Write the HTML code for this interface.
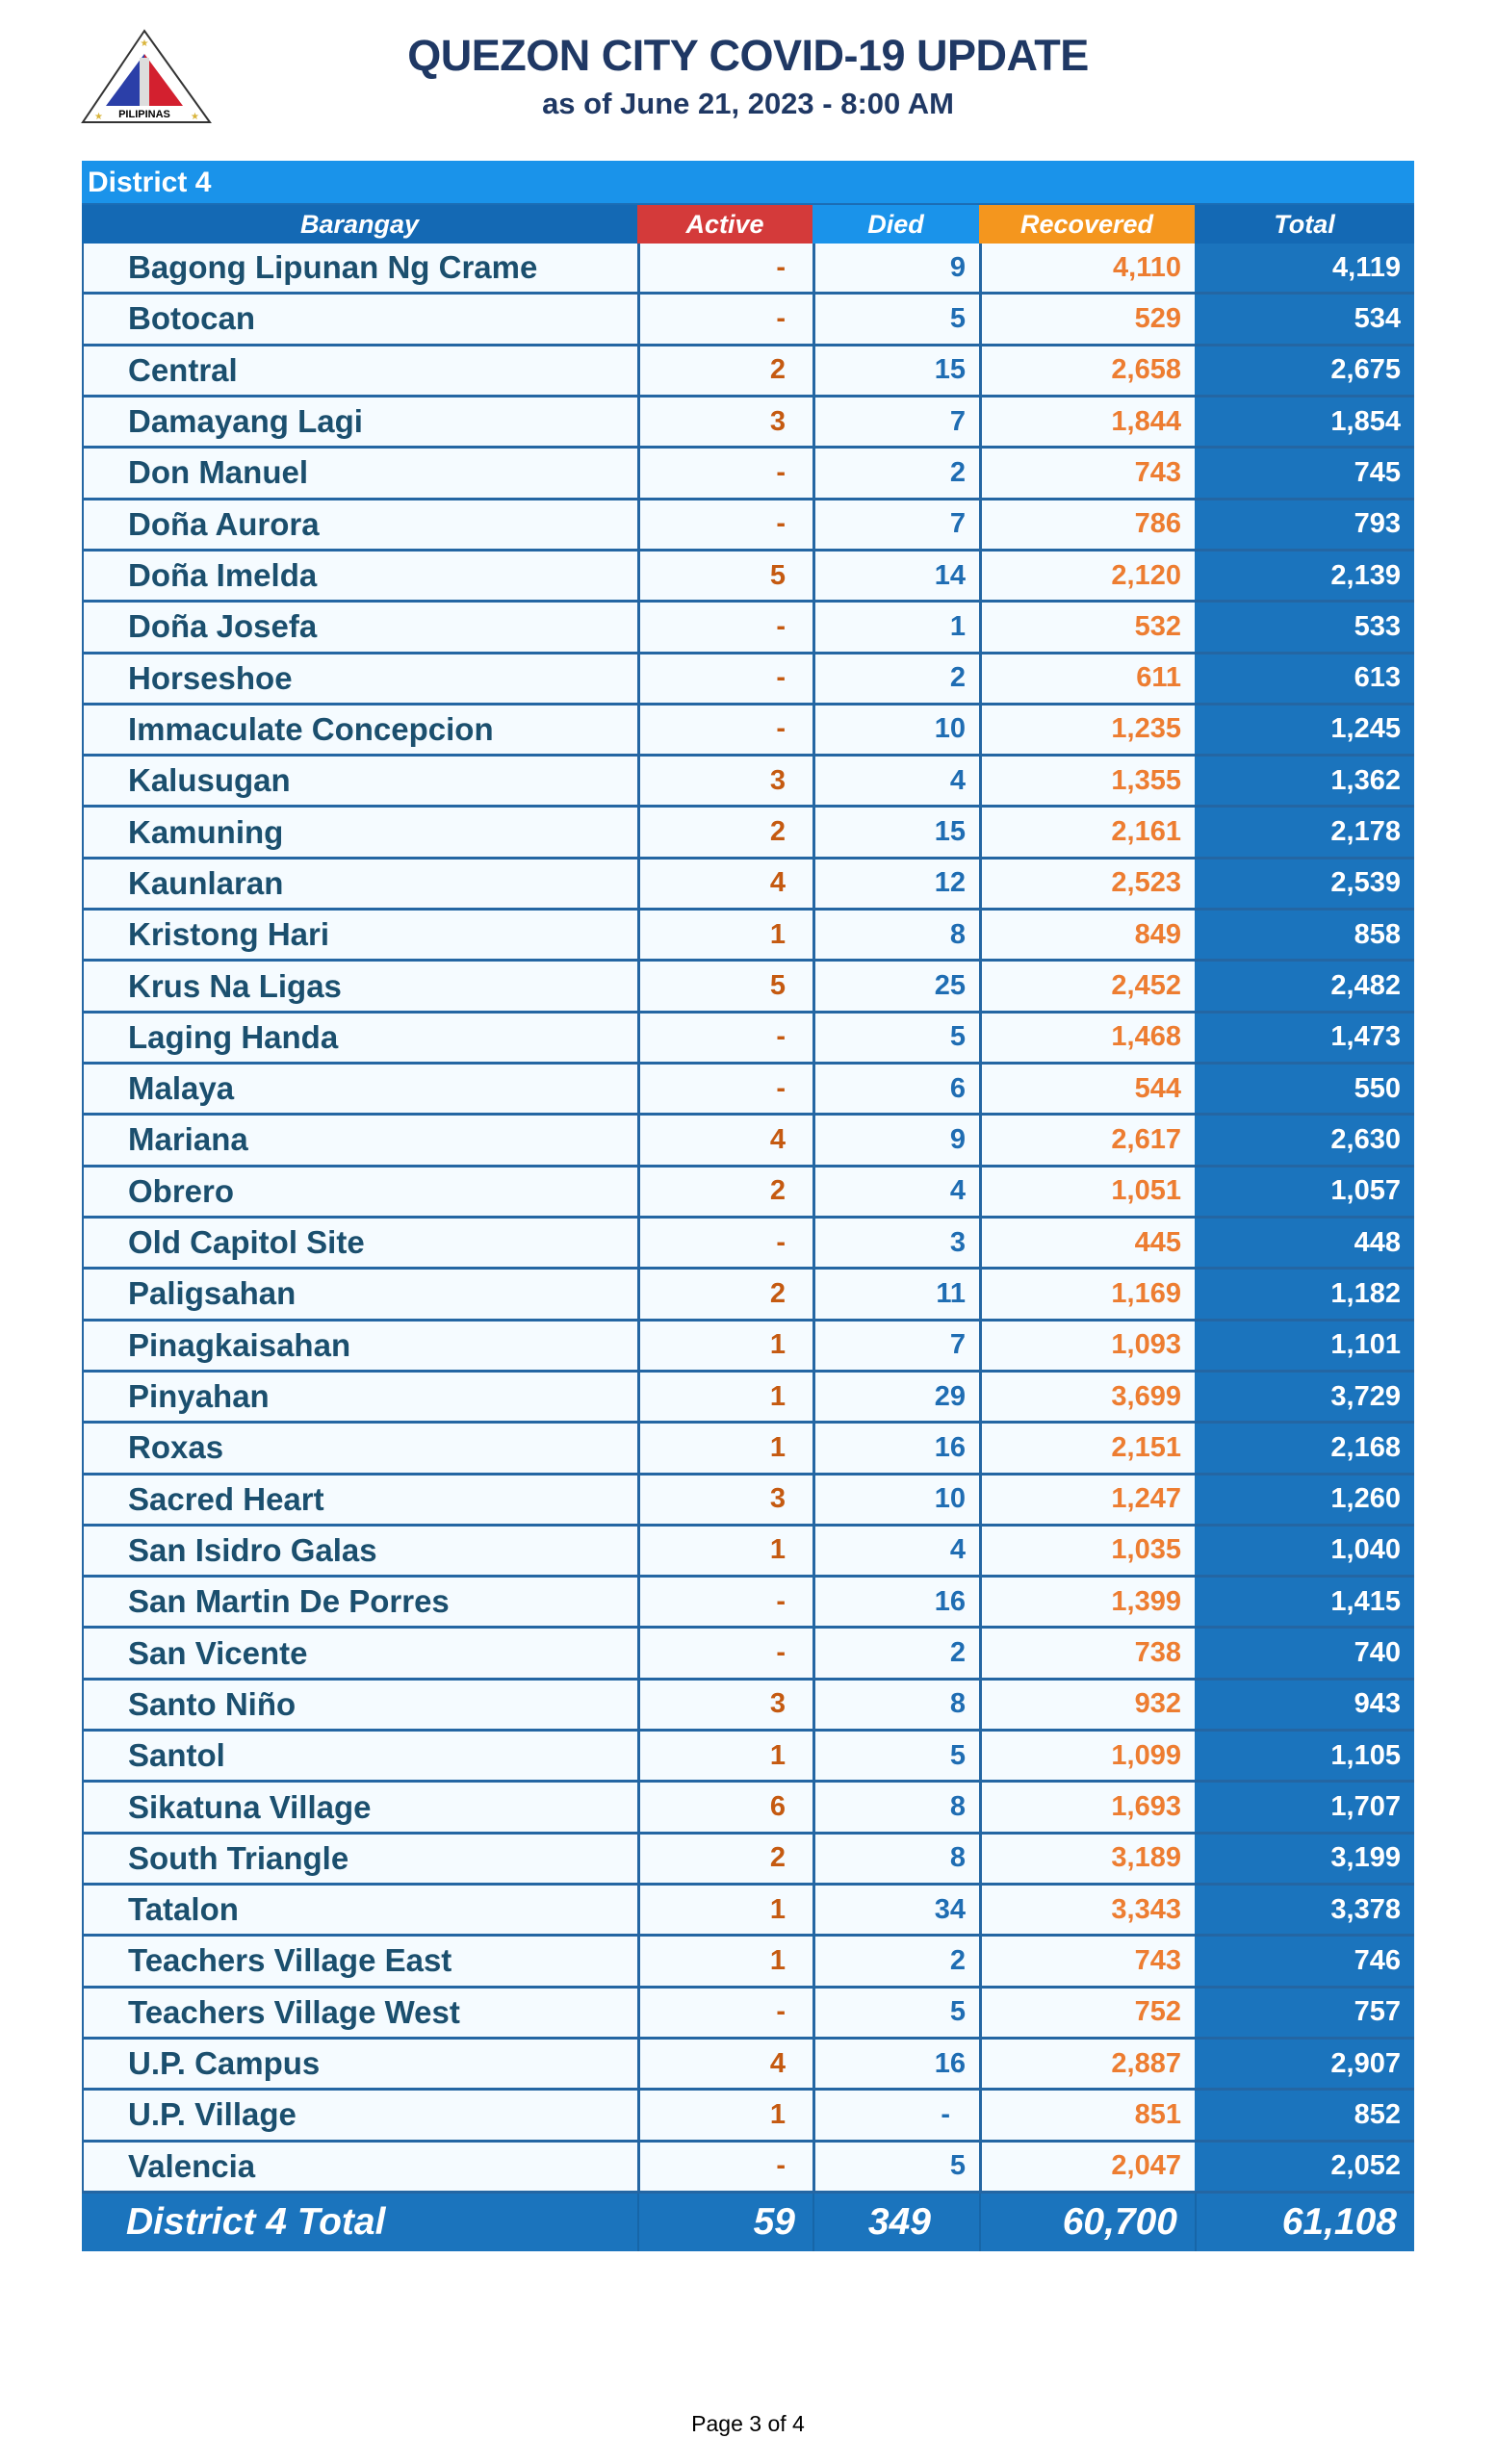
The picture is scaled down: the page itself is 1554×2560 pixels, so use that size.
<!DOCTYPE html>
<html><head><meta charset="utf-8">
<style>
*{margin:0;padding:0;box-sizing:border-box}
body{width:1554px;height:2560px;background:#fff;position:relative;font-family:"Liberation Sans",sans-serif;overflow:hidden}
.t1{position:absolute;left:0;width:1554px;top:32px;text-align:center;font-weight:bold;font-size:45px;color:#1f3864;letter-spacing:-0.5px}
.t2{position:absolute;left:0;width:1554px;top:90px;text-align:center;font-weight:bold;font-size:31px;color:#1f3864}
.tbl{position:absolute;left:85px;top:167px;width:1384px}
.dist{height:46px;background:#1a93ea;color:#fff;font-weight:bold;font-size:30px;line-height:46px;padding-left:6px;border-bottom:2px solid #1b6db5}
.row{display:flex;height:53.316px;border-bottom:3px solid #2466a3}
.row div{height:100%;display:flex;align-items:center;justify-content:flex-end;font-weight:bold;font-size:29px;padding-right:14px}
.c1{width:577px;justify-content:flex-start!important;padding-left:46px;color:#1b4f6e;font-size:33px!important;background:#f5fbff;border-left:2px solid #2466a3}
.c2{width:182px;color:#c55a11;background:#f5fbff;border-left:3px solid #2466a3;padding-right:28px!important}
.c3{width:173px;color:#1f6db3;background:#f5fbff;border-left:3px solid #2466a3}
.c4{width:224px;color:#ed7d31;background:#f5fbff;border-left:3px solid #2466a3}
.c5{width:228px;color:#fff;background:#1b74bd}
.hdr{display:flex;height:40px;background:#1469b4}
.hdr div{display:flex;align-items:center;justify-content:center;color:#fff;font-weight:bold;font-style:italic;font-size:27px;height:100%}
.tot{display:flex;height:60px;background:#1b74bd}
.tot div{display:flex;align-items:center;justify-content:flex-end;color:#fff;font-weight:bold;font-style:italic;font-size:39px;height:100%;padding-right:18px;border-left:2px solid #1766a8}
.foot{position:absolute;top:2505px;left:0;width:1554px;text-align:center;font-size:23px;color:#000}
</style></head><body>
<svg style="position:absolute;left:84px;top:30px" width="138" height="100" viewBox="0 0 138 100">
<polygon points="66,2 2,97 134,97" fill="#fff" stroke="#333" stroke-width="2"/>
<polygon points="66,26 26,80 66,80" fill="#2b3fa8"/>
<polygon points="66,26 106,80 66,80" fill="#d3202f"/>
<rect x="61" y="30" width="10" height="50" fill="#ddd"/>
<text x="66" y="92" font-size="11" font-weight="bold" text-anchor="middle" font-family="Liberation Sans">PILIPINAS</text>
<text x="66" y="18" font-size="10" fill="#d9b43a" text-anchor="middle">★</text>
<text x="14" y="94" font-size="10" fill="#d9b43a">★</text>
<text x="114" y="94" font-size="10" fill="#d9b43a">★</text>
</svg>
<div class="t1">QUEZON CITY COVID-19 UPDATE</div>
<div class="t2">as of June 21, 2023 - 8:00 AM</div>
<div class="tbl">
<div class="dist">District 4</div>
<div class="hdr"><div style="width:577px">Barangay</div><div style="width:182px;background:#d43a3a">Active</div><div style="width:173px;background:#1a93ea">Died</div><div style="width:224px;background:#f4961e">Recovered</div><div style="width:228px">Total</div></div>
<div class="row"><div class="c1">Bagong Lipunan Ng Crame</div><div class="c2">-</div><div class="c3">9</div><div class="c4">4,110</div><div class="c5">4,119</div></div>
<div class="row"><div class="c1">Botocan</div><div class="c2">-</div><div class="c3">5</div><div class="c4">529</div><div class="c5">534</div></div>
<div class="row"><div class="c1">Central</div><div class="c2">2</div><div class="c3">15</div><div class="c4">2,658</div><div class="c5">2,675</div></div>
<div class="row"><div class="c1">Damayang Lagi</div><div class="c2">3</div><div class="c3">7</div><div class="c4">1,844</div><div class="c5">1,854</div></div>
<div class="row"><div class="c1">Don Manuel</div><div class="c2">-</div><div class="c3">2</div><div class="c4">743</div><div class="c5">745</div></div>
<div class="row"><div class="c1">Doña Aurora</div><div class="c2">-</div><div class="c3">7</div><div class="c4">786</div><div class="c5">793</div></div>
<div class="row"><div class="c1">Doña Imelda</div><div class="c2">5</div><div class="c3">14</div><div class="c4">2,120</div><div class="c5">2,139</div></div>
<div class="row"><div class="c1">Doña Josefa</div><div class="c2">-</div><div class="c3">1</div><div class="c4">532</div><div class="c5">533</div></div>
<div class="row"><div class="c1">Horseshoe</div><div class="c2">-</div><div class="c3">2</div><div class="c4">611</div><div class="c5">613</div></div>
<div class="row"><div class="c1">Immaculate Concepcion</div><div class="c2">-</div><div class="c3">10</div><div class="c4">1,235</div><div class="c5">1,245</div></div>
<div class="row"><div class="c1">Kalusugan</div><div class="c2">3</div><div class="c3">4</div><div class="c4">1,355</div><div class="c5">1,362</div></div>
<div class="row"><div class="c1">Kamuning</div><div class="c2">2</div><div class="c3">15</div><div class="c4">2,161</div><div class="c5">2,178</div></div>
<div class="row"><div class="c1">Kaunlaran</div><div class="c2">4</div><div class="c3">12</div><div class="c4">2,523</div><div class="c5">2,539</div></div>
<div class="row"><div class="c1">Kristong Hari</div><div class="c2">1</div><div class="c3">8</div><div class="c4">849</div><div class="c5">858</div></div>
<div class="row"><div class="c1">Krus Na Ligas</div><div class="c2">5</div><div class="c3">25</div><div class="c4">2,452</div><div class="c5">2,482</div></div>
<div class="row"><div class="c1">Laging Handa</div><div class="c2">-</div><div class="c3">5</div><div class="c4">1,468</div><div class="c5">1,473</div></div>
<div class="row"><div class="c1">Malaya</div><div class="c2">-</div><div class="c3">6</div><div class="c4">544</div><div class="c5">550</div></div>
<div class="row"><div class="c1">Mariana</div><div class="c2">4</div><div class="c3">9</div><div class="c4">2,617</div><div class="c5">2,630</div></div>
<div class="row"><div class="c1">Obrero</div><div class="c2">2</div><div class="c3">4</div><div class="c4">1,051</div><div class="c5">1,057</div></div>
<div class="row"><div class="c1">Old Capitol Site</div><div class="c2">-</div><div class="c3">3</div><div class="c4">445</div><div class="c5">448</div></div>
<div class="row"><div class="c1">Paligsahan</div><div class="c2">2</div><div class="c3">11</div><div class="c4">1,169</div><div class="c5">1,182</div></div>
<div class="row"><div class="c1">Pinagkaisahan</div><div class="c2">1</div><div class="c3">7</div><div class="c4">1,093</div><div class="c5">1,101</div></div>
<div class="row"><div class="c1">Pinyahan</div><div class="c2">1</div><div class="c3">29</div><div class="c4">3,699</div><div class="c5">3,729</div></div>
<div class="row"><div class="c1">Roxas</div><div class="c2">1</div><div class="c3">16</div><div class="c4">2,151</div><div class="c5">2,168</div></div>
<div class="row"><div class="c1">Sacred Heart</div><div class="c2">3</div><div class="c3">10</div><div class="c4">1,247</div><div class="c5">1,260</div></div>
<div class="row"><div class="c1">San Isidro Galas</div><div class="c2">1</div><div class="c3">4</div><div class="c4">1,035</div><div class="c5">1,040</div></div>
<div class="row"><div class="c1">San Martin De Porres</div><div class="c2">-</div><div class="c3">16</div><div class="c4">1,399</div><div class="c5">1,415</div></div>
<div class="row"><div class="c1">San Vicente</div><div class="c2">-</div><div class="c3">2</div><div class="c4">738</div><div class="c5">740</div></div>
<div class="row"><div class="c1">Santo Niño</div><div class="c2">3</div><div class="c3">8</div><div class="c4">932</div><div class="c5">943</div></div>
<div class="row"><div class="c1">Santol</div><div class="c2">1</div><div class="c3">5</div><div class="c4">1,099</div><div class="c5">1,105</div></div>
<div class="row"><div class="c1">Sikatuna Village</div><div class="c2">6</div><div class="c3">8</div><div class="c4">1,693</div><div class="c5">1,707</div></div>
<div class="row"><div class="c1">South Triangle</div><div class="c2">2</div><div class="c3">8</div><div class="c4">3,189</div><div class="c5">3,199</div></div>
<div class="row"><div class="c1">Tatalon</div><div class="c2">1</div><div class="c3">34</div><div class="c4">3,343</div><div class="c5">3,378</div></div>
<div class="row"><div class="c1">Teachers Village East</div><div class="c2">1</div><div class="c3">2</div><div class="c4">743</div><div class="c5">746</div></div>
<div class="row"><div class="c1">Teachers Village West</div><div class="c2">-</div><div class="c3">5</div><div class="c4">752</div><div class="c5">757</div></div>
<div class="row"><div class="c1">U.P. Campus</div><div class="c2">4</div><div class="c3">16</div><div class="c4">2,887</div><div class="c5">2,907</div></div>
<div class="row"><div class="c1">U.P. Village</div><div class="c2">1</div><div class="c3" style="padding-right:30px">-</div><div class="c4">851</div><div class="c5">852</div></div>
<div class="row"><div class="c1">Valencia</div><div class="c2">-</div><div class="c3">5</div><div class="c4">2,047</div><div class="c5">2,052</div></div>
<div class="tot"><div style="width:577px;justify-content:flex-start;padding-left:46px;border-left:none">District 4 Total</div><div style="width:182px">59</div><div style="width:173px;padding-right:50px">349</div><div style="width:224px">60,700</div><div style="width:228px">61,108</div></div>
</div>
<div class="foot">Page 3 of 4</div>
</body></html>
